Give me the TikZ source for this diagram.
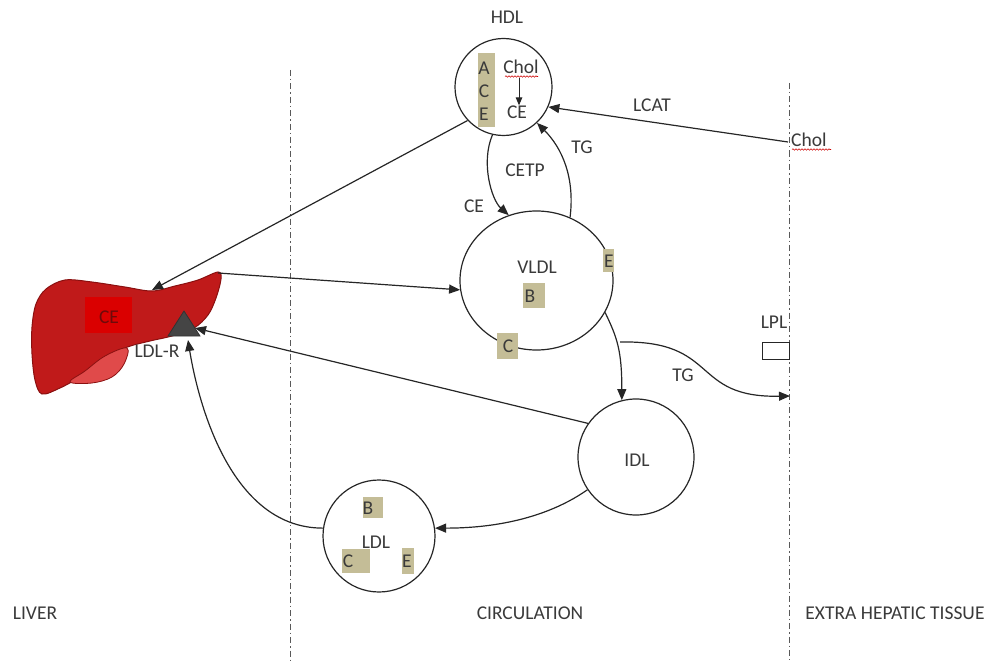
\documentclass[tikz,border=0pt]{standalone}
\usepackage{fontspec}
\setmainfont{Carlito}
\usetikzlibrary{arrows.meta,shapes.geometric,decorations.pathmorphing}
\definecolor{tan}{HTML}{C4BD97}
\definecolor{ink}{HTML}{3A3A3A}
\definecolor{liverred}{HTML}{C01A1A}
\definecolor{liveredge}{HTML}{8A1010}
\definecolor{lobered}{HTML}{E04A4A}
\definecolor{cebox}{HTML}{DA0000}
\definecolor{cetext}{HTML}{6E0A0A}
\definecolor{receptor}{HTML}{454545}

\begin{document}
\begin{tikzpicture}[x=1pt,y=-1pt,
  lbl/.style={font=\fontsize{19.5}{23}\selectfont, text=ink, inner sep=0pt},
  particle/.style={draw=black!85, line width=1.2pt, circle, inner sep=0pt},
  apo/.style={fill=tan, inner sep=0pt},
  flow/.style={draw=black!85, line width=1.2pt, -{Triangle[length=11pt,width=9pt]}},
  smallflow/.style={draw=black!85, line width=1pt, -{Triangle[length=8pt,width=6.5pt]}},
  boundary/.style={draw=black!65, line width=1pt, dash pattern=on 6pt off 3pt on 1.5pt off 3pt},
  spell/.style={draw=red!80!black, line width=0.6pt, decorate,
    decoration={snake, segment length=3pt, amplitude=0.7pt}}
]
\path[use as bounding box] (0,0) rectangle (993,666);

% compartment boundaries
\draw[boundary] (290,70) -- (290,660);
\draw[boundary] (789,83) -- (789,660);

% liver
\filldraw[fill=liverred, draw=liveredge, line width=1pt]
  plot[smooth cycle, tension=0.55] coordinates {
  (218,272) (198,280) (175,286) (152,291) (125,287) (92,282) (65,280)
  (46,289) (36,304) (32,327) (32,354) (35,380) (42,394) (60,388)
  (80,377) (102,362) (125,348) (150,341) (172,336) (194,328) (208,315)
  (216,298) (221,279)};
\filldraw[fill=lobered, draw=liveredge, line width=0.8pt]
  plot[smooth cycle, tension=0.6] coordinates {
  (70,382) (92,383) (112,377) (124,364) (127,348) (105,356) (85,371)};
\node[fill=cebox, minimum width=47pt, minimum height=36pt, inner sep=0pt] (cebx) at (108.5,315) {};
\node[lbl, text=cetext] (livce) at (109,317) {CE};
\filldraw[fill=receptor, draw=black!80, line width=0.8pt] (168,336) -- (200,336) -- (184,311) -- cycle;
\node[lbl] (ldlr) at (157,351) {LDL-R};
\coordinate (livertip) at (218,273);
\coordinate (livertop) at (152,290);
\coordinate (recside) at (195,328);
\coordinate (recbase) at (188,340);

% lipoprotein particles
\node[particle, minimum size=97pt] (hdl) at (503.5,87) {};
\node[draw=black!85, line width=1.2pt, ellipse, inner sep=0pt,
      minimum width=153pt, minimum height=139pt] (vldl) at (536.5,280.5) {};
\node[particle, minimum size=116pt] (idl) at (636,457) {};
\node[particle, minimum size=112pt] (ldl) at (379,536) {};

% HDL contents
\node[lbl] (hdllab) at (507,17) {HDL};
\node[apo, minimum width=17pt, minimum height=74pt] (hdlbar) at (486.5,90) {};
\node[lbl] (hdla) at (484,68) {A};
\node[lbl] (hdlc) at (484,91) {C};
\node[lbl] (hdle) at (484,114) {E};
\node[lbl] (hdlchol) at (521,67) {Chol};
\draw[spell] (505,76.5) -- (538,76.5);
\node[lbl] (hdlce) at (517,112) {CE};
\draw[smallflow] (hdlchol.south -| 519,0) ++(0,4) -- (hdlce.north -| 519,0);

% VLDL contents
\node[lbl] (vldllab) at (537,267) {VLDL};
\node[apo, minimum width=22pt, minimum height=25pt] (vldlb) at (534,295.5) {};
\node[lbl] (vldlbt) at (530,296) {B};
\node[apo, minimum width=11pt, minimum height=23pt] (vldle) at (608.5,260.5) {};
\node[lbl] (vldlet) at (609,261) {E};
\node[apo, minimum width=21pt, minimum height=26pt] (vldlc) at (507.5,346) {};
\node[lbl] (vldlct) at (508,346) {C};

% IDL contents
\node[lbl] (idllab) at (637,460) {IDL};

% LDL contents
\node[apo, minimum width=20pt, minimum height=21pt] (ldlb) at (373,507.5) {};
\node[lbl] (ldlbt) at (368,508) {B};
\node[lbl] (ldllab) at (376,542) {LDL};
\node[apo, minimum width=28pt, minimum height=24pt] (ldlc) at (356,561) {};
\node[lbl] (ldlct) at (348,561) {C};
\node[apo, minimum width=12pt, minimum height=26pt] (ldle) at (408,561) {};
\node[lbl] (ldlet) at (407,561) {E};

% extra-hepatic tissue
\node[lbl, anchor=west] (tischol) at (791,140) {Chol};
\draw[spell] (792,149.5) -- (831,149.5);
\coordinate (cholsrc) at (788,142);
\node[lbl] (lpl) at (774,322) {LPL};
\node[draw=black!85, line width=1pt, minimum width=27pt, minimum height=17pt, inner sep=0pt] (lplbox) at (775.5,351) {};
\coordinate (tgsink) at (790,396);
\coordinate (tgsplit) at (620,342);

% flux labels
\node[lbl] (lcat) at (652,105) {LCAT};
\node[lbl] (cetp) at (525,170) {CETP};
\node[lbl] (tgup) at (582,147) {TG};
\node[lbl] (ceflow) at (474,206) {CE};
\node[lbl] (tgout) at (683,375) {TG};

% compartment names
\node[lbl] (liver) at (35,613) {LIVER};
\node[lbl] (circ) at (530,613) {CIRCULATION};
\node[lbl] (extra) at (895,613) {EXTRA HEPATIC TISSUE};

% transport routes
\draw[flow] (cholsrc) -- (hdl.-24);
\draw[flow] (hdl.223) -- (livertop);
\draw[flow] (hdl.257) .. controls +(-12,28) and +(-17,-15) .. (vldl.113);
\draw[flow] (vldl.62) .. controls +(5,-40) and +(25,25) .. (hdl.-47);
\draw[flow] (livertip) -- (vldl.187);
\draw[flow] (vldl.-25) .. controls +(12,25) and +(0,-50) .. (idl.104);
\draw[flow] (tgsplit) .. controls (720,340) and (690,398) .. (tgsink);
\draw[flow] (idl.145) -- (recside);
\draw[flow] (idl.214) .. controls +(-50,35) and +(40,0) .. (ldl.8);
\draw[flow] (ldl.172) .. controls +(-97,0) and +(8,50) .. (recbase);
\end{tikzpicture}
\end{document}
